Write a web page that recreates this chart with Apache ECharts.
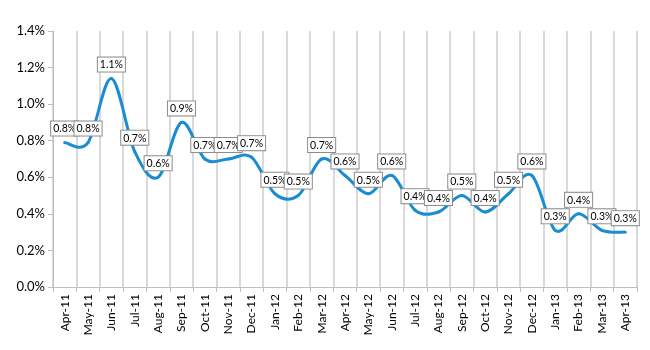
<!DOCTYPE html>
<html>
<head>
<meta charset="utf-8">
<script src="https://cdn.jsdelivr.net/npm/echarts@6/dist/echarts.min.js"></script>
<style>
  html, body { margin: 0; padding: 0; background: #fff; }
  #chart { width: 650px; height: 350px; }
</style>
</head>
<body>
<div id="chart"></div>
<script>
// months shown on the x axis
const months = [
  'Apr-11', 'May-11', 'Jun-11', 'Jul-11', 'Aug-11', 'Sep-11', 'Oct-11', 'Nov-11', 'Dec-11',
  'Jan-12', 'Feb-12', 'Mar-12', 'Apr-12', 'May-12', 'Jun-12', 'Jul-12', 'Aug-12', 'Sep-12',
  'Oct-12', 'Nov-12', 'Dec-12', 'Jan-13', 'Feb-13', 'Mar-13', 'Apr-13'
]
// rate in percent
const rates = [
  0.79, 0.79, 1.14, 0.74, 0.60, 0.90, 0.70, 0.70, 0.71,
  0.51, 0.50, 0.70, 0.61, 0.51, 0.61, 0.42, 0.41, 0.50,
  0.41, 0.51, 0.61, 0.31, 0.40, 0.31, 0.30
]
const yTicks = [0, 0.2, 0.4, 0.6, 0.8, 1.0, 1.2, 1.4]

const font = 'Lato, "Open Sans", sans-serif'
const chart = echarts.init(document.getElementById('chart'))

// one bezier segment per pair of months, Catmull-Rom style like Excel's smoothed line
function renderSegment(params, api) {
  const i = params.dataIndex
  const n = rates.length
  const pt = k => {
    const j = Math.max(0, Math.min(n - 1, k))
    return api.coord([j, rates[j]])
  }
  const p0 = pt(i - 1), p1 = pt(i), p2 = pt(i + 1), p3 = pt(i + 2)
  const t = 1 / 6
  return {
    type: 'bezierCurve',
    shape: {
      x1: p1[0], y1: p1[1],
      cpx1: p1[0] + (p2[0] - p0[0]) * t, cpy1: p1[1] + (p2[1] - p0[1]) * t,
      cpx2: p2[0] - (p3[0] - p1[0]) * t, cpy2: p2[1] - (p3[1] - p1[1]) * t,
      x2: p2[0], y2: p2[1]
    },
    style: { stroke: '#1a8dd2', lineWidth: 3, fill: null, lineCap: 'round' }
  }
}

chart.setOption({
  animation: false,
  grid: { left: 53, right: 13, top: 31, bottom: 63 },
  xAxis: {
    type: 'category',
    data: months,
    boundaryGap: true,
    axisLine: { lineStyle: { color: '#bfbfbf', width: 1 } },
    axisTick: { show: true, length: 5, lineStyle: { color: '#bfbfbf' } },
    splitLine: { show: true, lineStyle: { color: '#d9d9d9', width: 2 } },
    axisLabel: {
      rotate: 90,
      interval: 0,
      margin: 7,
      color: '#000',
      fontSize: 12,
      fontFamily: font
    }
  },
  yAxis: {
    type: 'value',
    min: yTicks[0],
    max: yTicks[yTicks.length - 1],
    interval: 0.2,
    axisLine: { show: true, lineStyle: { color: '#bfbfbf', width: 1 } },
    axisTick: { show: true, length: 5, lineStyle: { color: '#bfbfbf' } },
    splitLine: { show: false },
    axisLabel: {
      color: '#000',
      fontSize: 13,
      fontFamily: font,
      margin: 8,
      formatter: v => v.toFixed(1) + '%'
    }
  },
  series: [
    {
      type: 'custom',
      z: 2,
      data: rates.slice(0, -1).map((v, i) => [i, v]),
      renderItem: renderSegment,
      clip: false
    },
    {
      type: 'line',
      z: 5,
      data: rates,
      symbol: 'circle',
      symbolSize: 2,
      showSymbol: true,
      itemStyle: { color: 'rgba(0,0,0,0)', borderWidth: 0 },
      lineStyle: { width: 0, color: 'rgba(0,0,0,0)' },
      label: {
        show: true,
        position: 'top',
        distance: 6,
        formatter: p => p.value.toFixed(1) + '%',
        color: '#000',
        fontSize: 10.5,
        fontFamily: font,
        backgroundColor: '#fff',
        borderColor: '#8c8c8c',
        borderWidth: 1,
        padding: [2, 2, 1, 2]
      },
      labelLayout: { hideOverlap: false }
    }
  ]
})
</script>
</body>
</html>
